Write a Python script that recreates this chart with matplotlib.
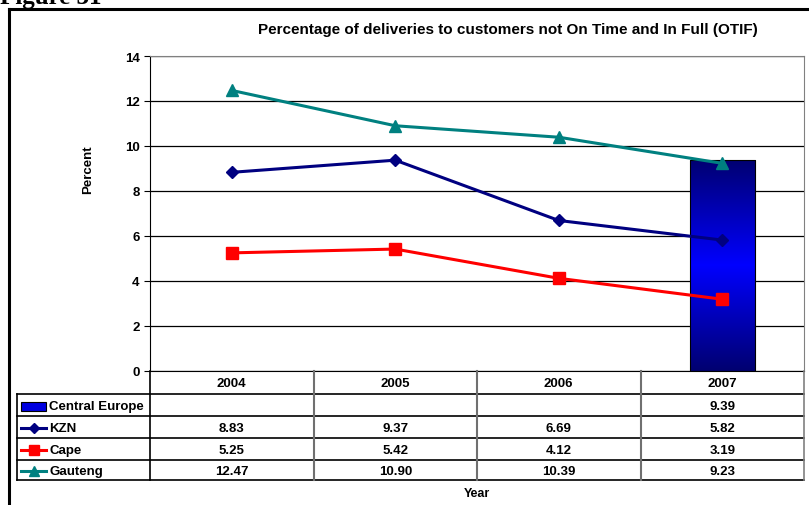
import matplotlib
matplotlib.use("Agg")
import matplotlib.pyplot as plt
import numpy as np
from matplotlib.colors import LinearSegmentedColormap
from matplotlib.lines import Line2D

years = ["2004", "2005", "2006", "2007"]
central_europe = [None, None, None, 9.39]
kzn = [8.83, 9.37, 6.69, 5.82]
cape = [5.25, 5.42, 4.12, 3.19]
gauteng = [12.47, 10.90, 10.39, 9.23]

series_names = ["Central Europe", "KZN", "Cape", "Gauteng"]
series_vals = [central_europe, kzn, cape, gauteng]
line_colors = {"KZN": "#000080", "Cape": "#FF0000", "Gauteng": "#008080"}
line_markers = {"KZN": "D", "Cape": "s", "Gauteng": "^"}
marker_size = {"KZN": 6, "Cape": 8, "Gauteng": 8}

plt.rcParams["font.family"] = ["Liberation Sans", "DejaVu Sans"]

W, H = 809, 506
fig = plt.figure(figsize=(W / 100, H / 100), dpi=100)

def fx(px):
    return px / W

def fy(py):
    return 1 - py / H

# outer frame (top and left edges visible, the rest runs off the page)
fig.add_artist(Line2D([fx(9), fx(9)], [fy(10), 0], color="black", lw=2.2))
fig.add_artist(Line2D([fx(9), 1], [fy(10), fy(10)], color="black", lw=2.2))
fig.text(fx(0), fy(4), "Figure 31", family=["Liberation Serif", "DejaVu Serif"],
         fontsize=18, fontweight="bold", va="baseline", ha="left")

# plot area
px_l, px_r, px_t, px_b = 150, 804, 57, 372
ax = fig.add_axes([fx(px_l), fy(px_b), fx(px_r) - fx(px_l), fy(px_t) - fy(px_b)])
x = np.arange(len(years))
ax.set_yticks(range(0, 15, 2))
ax.tick_params(axis="y", labelsize=9.5, length=4, width=0.8)
for lab in ax.get_yticklabels():
    lab.set_fontweight("bold")
ax.set_xticks([])
ax.yaxis.grid(True, color="black", lw=0.9)
ax.set_axisbelow(True)
for side in ["top", "right"]:
    ax.spines[side].set_color("#808080")
ax.spines["left"].set_color("black")
ax.spines["bottom"].set_color("black")

# Central Europe bar with a vertical gradient fill
bar_w = 0.4
grad = LinearSegmentedColormap.from_list("bar", ["#000070", "#0000FF", "#000070"])
for xi, v in zip(x, central_europe):
    if v is None:
        continue
    rect = ax.bar(xi, v, width=bar_w, color="none", edgecolor="black", lw=0.8, zorder=3)[0]
    img = ax.imshow(np.linspace(0, 1, 256).reshape(-1, 1), cmap=grad, aspect="auto",
                    extent=[xi - bar_w / 2, xi + bar_w / 2, 0, v], zorder=2)
    img.set_clip_path(rect)
ax.set_xlim(-0.5, len(years) - 0.5)
ax.set_ylim(0, 14)

for name, vals in zip(series_names[1:], series_vals[1:]):
    ax.plot(x, vals, color=line_colors[name], marker=line_markers[name],
            markersize=marker_size[name], lw=2.2, zorder=4)

fig.text(fx(508), fy(30), "Percentage of deliveries to customers not On Time and In Full (OTIF)",
         fontsize=11, fontweight="bold", ha="center", va="center")
fig.text(fx(88), fy(170), "Percent", fontsize=9.5, fontweight="bold", rotation=90,
         ha="center", va="center")
fig.text(fx(477), fy(494), "Year", fontsize=9, fontweight="bold", ha="center", va="center")

# data table under the plot
tab_l, tab_t, tab_b = 17, 372, 481
row_edges = [372, 395, 417, 439, 461, 481]
col_w = (px_r - px_l) / len(years)
col_edges = [px_l + i * col_w for i in range(len(years) + 1)]
tax = fig.add_axes([fx(tab_l), fy(tab_b), fx(px_r) - fx(tab_l), fy(tab_t) - fy(tab_b)])
tax.set_xlim(tab_l, px_r)
tax.set_ylim(tab_b, tab_t)
tax.axis("off")

# horizontal rules
for ry in row_edges[1:]:
    tax.plot([tab_l, px_r], [ry, ry], color="black", lw=1.2, clip_on=False)
# vertical rules
tax.plot([tab_l, tab_l], [row_edges[1], row_edges[-1]], color="black", lw=1.2, clip_on=False)
tax.plot([px_l, px_l], [row_edges[0], row_edges[-1]], color="black", lw=1.2, clip_on=False)
for cx in col_edges[1:-1]:
    tax.plot([cx, cx], [row_edges[0], row_edges[-1]], color="#707070", lw=1.5, clip_on=False)
tax.plot([px_r, px_r], [row_edges[0], row_edges[-1]], color="#808080", lw=1.2, clip_on=False)

for j, yr in enumerate(years):
    tax.text(col_edges[j] + col_w / 2, (row_edges[0] + row_edges[1]) / 2 + 1, yr,
             fontsize=9.5, fontweight="bold", ha="center", va="center")

for i, (name, vals) in enumerate(zip(series_names, series_vals)):
    yc = (row_edges[i + 1] + row_edges[i + 2]) / 2 + 1
    # legend key
    kx0, kx1 = tab_l + 4, tab_l + 29
    if name == "Central Europe":
        tax.add_patch(plt.Rectangle((kx0, yc - 4.5), kx1 - kx0, 9, facecolor="#0000E0",
                                    edgecolor="black", lw=0.8))
    else:
        tax.plot([kx0, kx1], [yc, yc], color=line_colors[name], lw=2.2)
        tax.plot([(kx0 + kx1) / 2], [yc], color=line_colors[name],
                 marker=line_markers[name], markersize=marker_size[name] - 1)
    tax.text(kx1 + 3, yc, name, fontsize=9.5, fontweight="bold", ha="left", va="center")
    for j, v in enumerate(vals):
        if v is None:
            continue
        tax.text(col_edges[j] + col_w / 2, yc, f"{v:.2f}", fontsize=9.5,
                 fontweight="bold", ha="center", va="center")

fig.savefig("out.png", dpi=100)
